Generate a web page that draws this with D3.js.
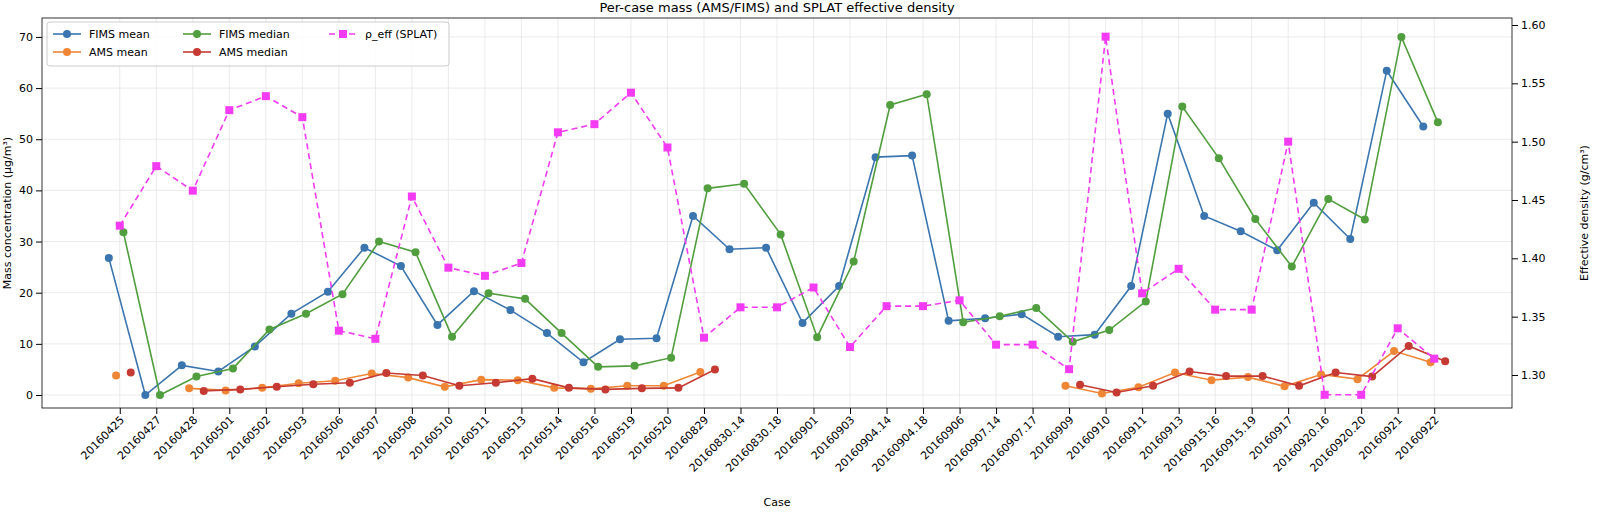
<!DOCTYPE html>
<html><head><meta charset="utf-8">
<script src="https://cdn.jsdelivr.net/npm/d3@7"></script>
<style>body{margin:0;background:#fff}text{font-family:"DejaVu Sans",sans-serif}</style>
</head><body><svg id="c" width="1597" height="512"></svg>
<script>
const categories=["20160425","20160427","20160428","20160501","20160502","20160503","20160506","20160507","20160508","20160510","20160511","20160513","20160514","20160516","20160519","20160520","20160829","20160830.14","20160830.18","20160901","20160903","20160904.14","20160904.18","20160906","20160907.14","20160907.17","20160909","20160910","20160911","20160913","20160915.16","20160915.19","20160917","20160920.16","20160920.20","20160921","20160922"];
const fimsMean=[26.8,0,5.8,4.6,9.5,15.9,20.2,28.8,25.2,13.7,20.3,16.6,12.1,6.4,10.9,11.1,35,28.5,28.8,14.1,21.3,46.5,46.8,14.5,15,15.8,11.4,11.8,21.3,55,35,32,28.3,37.6,30.5,63.4,52.5];
const fimsMedian=[31.8,0,3.6,5.2,12.8,15.9,19.7,30,27.9,11.4,19.9,18.8,12.1,5.5,5.7,7.3,40.4,41.3,31.4,11.3,26.1,56.7,58.8,14.2,15.4,17,10.4,12.7,18.3,56.4,46.3,34.4,25.1,38.3,34.3,70,53.3];
const amsMean=[3.8,null,1.3,0.9,1.4,2.3,2.8,4.2,3.4,1.6,3.0,2.9,1.4,1.2,1.8,1.8,4.5,null,null,null,null,null,null,null,null,null,1.8,0.3,1.5,4.4,2.9,3.5,1.7,4,3.1,8.6,6.4];
const amsMedian=[4.4,null,0.8,1.1,1.6,2.1,2.4,4.3,3.8,1.8,2.4,3.2,1.4,1.1,1.3,1.4,5.0,null,null,null,null,null,null,null,null,null,2,0.5,1.8,4.6,3.7,3.7,1.8,4.4,3.6,9.6,6.6];
const rhoEff=[1.428,1.479,1.458,1.527,1.539,1.521,1.338,1.331,1.453,1.392,1.385,1.396,1.508,1.515,1.542,1.495,1.332,1.358,1.358,1.375,1.324,1.359,1.359,1.364,1.326,1.326,1.305,1.590,1.370,1.391,1.356,1.356,1.500,1.283,1.283,1.340,1.314];
const leftTicks=[0,10,20,30,40,50,60,70];
const rightTicks=[1.30,1.35,1.40,1.45,1.50,1.55,1.60];

const svg=d3.select("#c");
const L=42,R=1512,T=18,B=408;
const x=d3.scaleLinear().domain([-2.13,38.13]).range([L,R]);
const y=d3.scaleLinear().domain([-2.54,73.7]).range([B,T]);
const y2=d3.scaleLinear().domain([1.2717,1.606]).range([B,T]);
const g=svg.append("g");
g.selectAll(".gx").data(categories).join("line").attr("x1",(d,i)=>x(i)).attr("x2",(d,i)=>x(i)).attr("y1",T).attr("y2",B).attr("stroke","#e6e6e6").attr("stroke-width",0.8);
g.selectAll(".gy").data(leftTicks).join("line").attr("x1",L).attr("x2",R).attr("y1",d=>y(d)).attr("y2",d=>y(d)).attr("stroke","#e6e6e6").attr("stroke-width",0.8);
const ax=svg.append("g").attr("transform",`translate(0,${B})`).call(d3.axisBottom(x).tickValues(d3.range(categories.length)).tickFormat(i=>categories[i]).tickSizeOuter(0));
ax.selectAll("text").attr("transform","rotate(-45)").attr("text-anchor","end").attr("dx","-0.5em").attr("dy","0.3em").style("font-size","11px").attr("fill","#000");
ax.select(".domain").remove();
const ay=svg.append("g").attr("transform",`translate(${L},0)`).call(d3.axisLeft(y).tickValues(leftTicks).tickSizeOuter(0));
ay.selectAll("text").style("font-size","11px").attr("fill","#000");ay.select(".domain").remove();
const ay2=svg.append("g").attr("transform",`translate(${R},0)`).call(d3.axisRight(y2).tickValues(rightTicks).tickFormat(d3.format(".2f")).tickSizeOuter(0));
ay2.selectAll("text").style("font-size","11px").attr("fill","#000");ay2.select(".domain").remove();
svg.append("rect").attr("x",L).attr("y",T).attr("width",R-L).attr("height",B-T).attr("fill","none").attr("stroke","#000").attr("stroke-width",0.8);
function series(vals,off,color,scale,shape,dash){
  const pts=vals.map((v,i)=>({i,v}));
  const line=d3.line().defined(d=>d.v!=null).x(d=>x(d.i+off)).y(d=>scale(d.v));
  svg.append("path").attr("d",line(pts)).attr("fill","none").attr("stroke",color).attr("stroke-width",1.6).attr("stroke-dasharray",dash||null);
  const p=pts.filter(d=>d.v!=null);
  if(shape==="sq") svg.selectAll(null).data(p).join("rect").attr("x",d=>x(d.i+off)-4).attr("y",d=>scale(d.v)-4).attr("width",8).attr("height",8).attr("fill",color);
  else svg.selectAll(null).data(p).join("circle").attr("cx",d=>x(d.i+off)).attr("cy",d=>scale(d.v)).attr("r",4).attr("fill",color);
}
const C={fm:"#3b75af",am:"#ef8636",fd:"#519e3e",ad:"#c53a32",rho:"#f23bf2"};
series(fimsMean,-0.3,C.fm,y);
series(amsMean,-0.1,C.am,y);
series(fimsMedian,0.1,C.fd,y);
series(amsMedian,0.3,C.ad,y);
series(rhoEff,0,C.rho,y2,"sq","6,4");
svg.append("text").attr("x",(L+R)/2).attr("y",12).attr("text-anchor","middle").style("font-size","13px").text("Per-case mass (AMS/FIMS) and SPLAT effective density");
svg.append("text").attr("x",(L+R)/2).attr("y",506).attr("text-anchor","middle").style("font-size","11px").text("Case");
svg.append("text").attr("transform",`translate(11,${(T+B)/2}) rotate(-90)`).attr("text-anchor","middle").style("font-size","11px").text("Mass concentration (µg/m³)");
svg.append("text").attr("transform",`translate(1588,${(T+B)/2}) rotate(-90)`).attr("text-anchor","middle").style("font-size","11px").text("Effective density (g/cm³)");
const lg=svg.append("g").attr("transform",`translate(${L+5},${T+4})`);
lg.append("rect").attr("width",402).attr("height",44).attr("rx",3).attr("fill","#fff").attr("fill-opacity",0.8).attr("stroke","#ccc");
const items=[["FIMS mean",C.fm,0,0],["AMS mean",C.am,0,1],["FIMS median",C.fd,1,0],["AMS median",C.ad,1,1],["ρ_eff (SPLAT)",C.rho,2,0]];
const colX=[6,136,282];
items.forEach(([t,c,col,row],k)=>{
  const gx=colX[col],gy=12+row*18;
  lg.append("line").attr("x1",gx).attr("x2",gx+28).attr("y1",gy).attr("y2",gy).attr("stroke",c).attr("stroke-width",1.6).attr("stroke-dasharray",k===4?"6,4":null);
  if(k===4) lg.append("rect").attr("x",gx+10).attr("y",gy-4).attr("width",8).attr("height",8).attr("fill",c);
  else lg.append("circle").attr("cx",gx+14).attr("cy",gy).attr("r",4).attr("fill",c);
  lg.append("text").attr("x",gx+36).attr("y",gy+4).style("font-size","11px").text(t);
});
</script></body></html>
